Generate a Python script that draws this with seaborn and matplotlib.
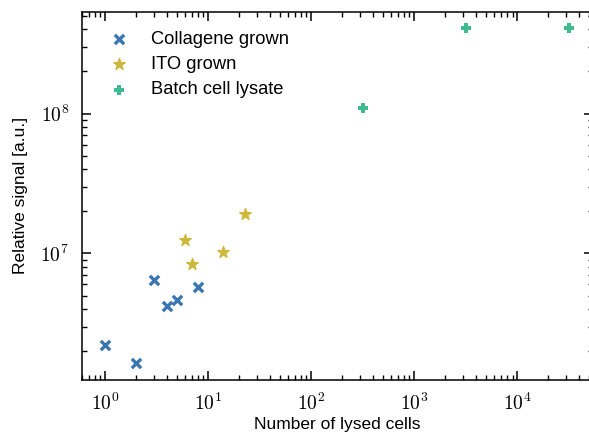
import numpy as np
import pandas as pd
import matplotlib
matplotlib.use("Agg")
import matplotlib.pyplot as plt
import matplotlib.ticker as mticker
from matplotlib.collections import LineCollection
import seaborn as sns

# data
collagene_cells = [1, 2, 3, 4, 5, 8]
collagene_signal = [2.2e6, 1.64e6, 6.45e6, 4.2e6, 4.65e6, 5.8e6]
ito_cells = [6, 7, 14, 23]
ito_signal = [1.25e7, 8.45e6, 1.02e7, 1.9e7]
batch_cells = [320, 3200, 32000]
batch_signal = [1.1e8, 4.06e8, 4.06e8]

labels = ["Collagene grown", "ITO grown", "Batch cell lysate"]
colors = ["#3a76b0", "#cfb73b", "#3fbb8f"]


def main():
    sns.set_style("ticks")
    plt.rcParams.update({
        "font.family": ["Liberation Sans", "DejaVu Sans"],
        "mathtext.fontset": "cm",
        "text.color": "black",
        "axes.labelcolor": "black",
        "axes.edgecolor": "black",
        "axes.linewidth": 1.1,
        "axes.axisbelow": False,
        "xtick.color": "black",
        "ytick.color": "black",
    })

    fig_w, fig_h = 589, 434
    fig = plt.figure(figsize=(fig_w / 100, fig_h / 100), dpi=100)
    left, bottom, width, height = 81.7 / fig_w, 54 / fig_h, 510.9 / fig_w, 368.3 / fig_h
    ax = fig.add_axes([left, bottom, width, height])

    df_c = pd.DataFrame({"cells": collagene_cells, "signal": collagene_signal})
    df_i = pd.DataFrame({"cells": ito_cells, "signal": ito_signal})
    df_b = pd.DataFrame({"cells": batch_cells, "signal": batch_signal})

    sns.scatterplot(data=df_c, x="cells", y="signal", marker="x", color=colors[0],
                    s=45, linewidth=2.4, label=labels[0], ax=ax)
    sns.scatterplot(data=df_i, x="cells", y="signal", marker="*", color=colors[1],
                    s=75, edgecolor=colors[1], linewidth=1.0, label=labels[1], ax=ax)
    sns.scatterplot(data=df_b, x="cells", y="signal", marker="P", color=colors[2],
                    s=55, linewidth=0, label=labels[2], ax=ax)

    ax.set_xscale("log")
    ax.set_yscale("log")
    ax.margins(0.05)

    fmt = mticker.FuncFormatter(lambda v, p: r"$10^{%d}$" % round(np.log10(v)))
    for axis in (ax.xaxis, ax.yaxis):
        axis.set_major_locator(mticker.LogLocator(base=10, numticks=20))
        axis.set_minor_locator(mticker.LogLocator(base=10, subs=np.arange(2, 10), numticks=20))
        axis.set_major_formatter(fmt)
        axis.set_minor_formatter(mticker.NullFormatter())

    # top/right tick marks come from the axis; bottom/left marks did not
    # render in this setup, so they are added as short line segments below
    ax.tick_params(which="both", direction="in", colors="black",
                   top=True, right=True, bottom=False, left=False,
                   labelbottom=True, labelleft=True)
    ax.tick_params(which="major", length=6.5, width=1.1, labelsize=14, pad=9)
    ax.tick_params(which="minor", length=3.5, width=1.0)

    ax.set_xlabel("Number of lysed cells", fontsize=12.5, labelpad=2)
    ax.set_ylabel("Relative signal [a.u.]", fontsize=12.5, labelpad=9)

    ax.legend(loc="upper left", frameon=False, fontsize=13.2,
              handletextpad=0.75, labelspacing=0.45, borderpad=0.55,
              markerscale=1.0, bbox_to_anchor=(0.0, 1.0))

    fig.canvas.draw()
    xlo, xhi = ax.get_xlim()
    ylo, yhi = ax.get_ylim()
    ax.set_xlim(xlo, xhi)
    ax.set_ylim(ylo, yhi)
    ax_px_w = width * fig_w
    ax_px_h = height * fig_h
    for locs_x, locs_y, length_pt, lw in [
        (ax.xaxis.get_majorticklocs(), ax.yaxis.get_majorticklocs(), 6.5, 1.1),
        (ax.xaxis.get_minorticklocs(), ax.yaxis.get_minorticklocs(), 3.5, 1.0),
    ]:
        length_px = length_pt * 100 / 72
        xs = [v for v in locs_x if xlo <= v <= xhi]
        ys = [v for v in locs_y if ylo <= v <= yhi]
        seg_x = [[(v, 0), (v, length_px / ax_px_h)] for v in xs]
        seg_y = [[(0, v), (length_px / ax_px_w, v)] for v in ys]
        ax.add_collection(LineCollection(seg_x, colors="black", linewidths=lw,
                                         transform=ax.get_xaxis_transform(),
                                         clip_on=False, zorder=3), autolim=False)
        ax.add_collection(LineCollection(seg_y, colors="black", linewidths=lw,
                                         transform=ax.get_yaxis_transform(),
                                         clip_on=False, zorder=3), autolim=False)

    fig.savefig("out.png", dpi=100)


if __name__ == "__main__":
    main()
